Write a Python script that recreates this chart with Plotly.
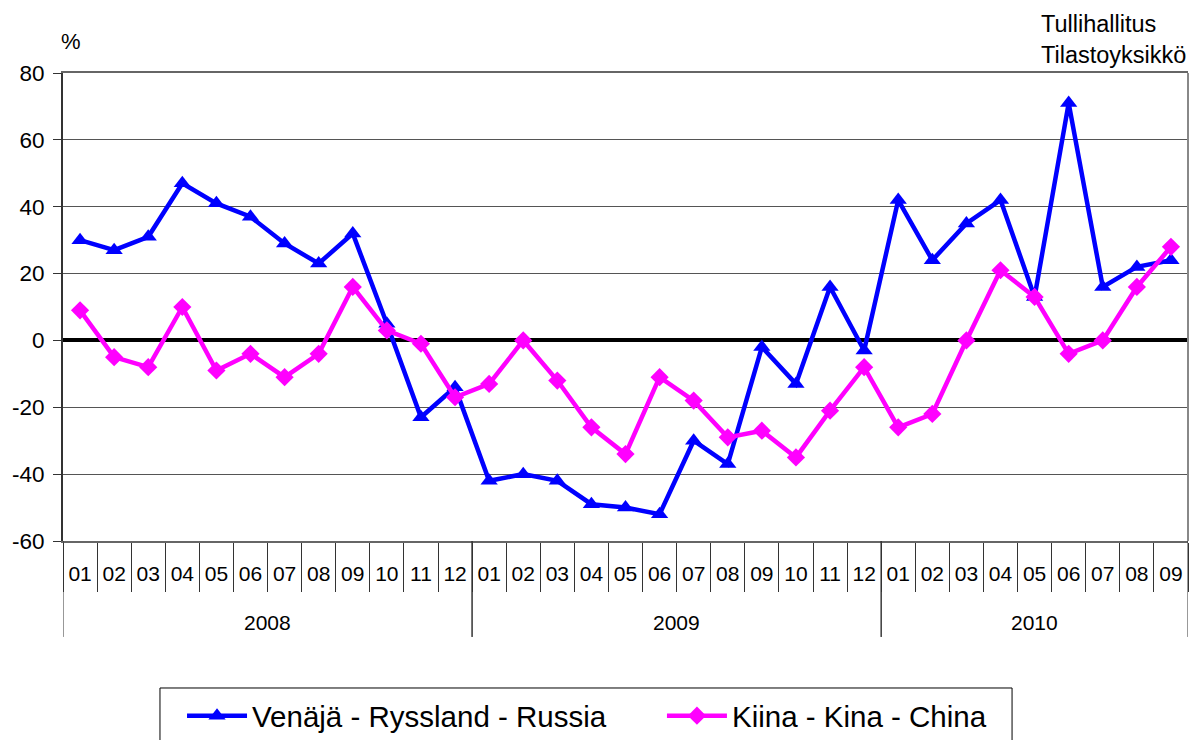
import plotly.graph_objects as go

years = ["2008"] * 12 + ["2009"] * 12 + ["2010"] * 9
months = [f"{m:02d}" for m in range(1, 13)] * 2 + [f"{m:02d}" for m in range(1, 10)]
periods = [f"{y}-{m}" for y, m in zip(years, months)]

russia = [30, 27, 31, 47, 41, 37, 29, 23, 32, 5, -23, -14,
          -42, -40, -42, -49, -50, -52, -30, -37, -2, -13, 16, -3,
          42, 24, 35, 42, 13, 71, 16, 22, 24]
china = [9, -5, -8, 10, -9, -4, -11, -4, 16, 3, -1, -17,
         -13, 0, -12, -26, -34, -11, -18, -29, -27, -35, -21, -8,
         -26, -22, 0, 21, 13, -4, 0, 16, 28]

y_ticks = list(range(-60, 81, 20))

FONT = "Liberation Sans, Arial, sans-serif"
AXIS_GREY = "#333333"

fig = go.Figure()
fig.add_trace(go.Scatter(
    x=periods, y=russia, name="Venäjä - Ryssland - Russia",
    mode="lines+markers", legend="legend",
    line=dict(color="#0000FF", width=4.5),
    marker=dict(symbol="triangle-up", size=15, color="#0000FF"),
))
fig.add_trace(go.Scatter(
    x=periods, y=china, name="Kiina - Kina - China",
    mode="lines+markers", legend="legend2",
    line=dict(color="#FF00FF", width=4.5),
    marker=dict(symbol="diamond", size=14, color="#FF00FF"),
))

# year groups: label in the middle of each group, divider lines at group edges
shapes = [dict(type="line", xref="paper", yref="paper", x0=1, x1=1, y0=0, y1=1,
               line=dict(color="#888888", width=2))]
annotations = []
year_order = list(dict.fromkeys(years))
start = 0
for yr in year_order:
    n = years.count(yr)
    first, last = start - 0.5, start + n - 0.5
    annotations.append(dict(text=yr, x=(first + last) / 2, xref="x", y=-0.175,
                            yref="paper", yanchor="middle", showarrow=False,
                            font=dict(size=21)))
    for edge in (first, last):
        shapes.append(dict(type="line", xref="x", yref="paper", x0=edge, x1=edge,
                           y0=0, y1=-0.205, line=dict(color=AXIS_GREY, width=1)))
    start += n

# frame shared by the two legend entries
shapes.append(dict(type="rect", xref="paper", yref="paper",
                   x0=0.0862, x1=0.8436, y0=-0.47, y1=-0.3141,
                   line=dict(color="black", width=1), fillcolor="rgba(0,0,0,0)"))

annotations += [
    dict(text="%", xref="paper", yref="paper", x=-0.004, y=1.0, yshift=17,
         xanchor="left", yanchor="bottom", showarrow=False, font=dict(size=22)),
    dict(text="Tullihallitus<br>Tilastoyksikkö", xref="paper", yref="paper",
         x=1.0, y=1.0, yshift=3, xanchor="right", yanchor="bottom", align="left",
         showarrow=False, font=dict(size=23.5)),
]

legend_style = dict(orientation="h", xanchor="left", y=-0.3184, yanchor="top",
                    borderwidth=0, bgcolor="rgba(0,0,0,0)",
                    font=dict(size=29.5), itemwidth=60)

fig.update_layout(
    width=1192, height=740,
    margin=dict(l=63, r=4, t=73, b=199, autoexpand=False),
    paper_bgcolor="white", plot_bgcolor="white",
    font=dict(family=FONT, size=21, color="black"),
    showlegend=True,
    legend=dict(x=0.1058, **legend_style),
    legend2=dict(x=0.5324, **legend_style),
    shapes=shapes,
    annotations=annotations,
)

fig.update_xaxes(
    type="category", automargin=False, tickangle=0,
    range=[-0.5, len(periods) - 0.5],
    tickvals=periods, ticktext=months,
    showline=True, linecolor="#666666", linewidth=2, mirror=True,
    ticks="outside", tickson="boundaries", ticklen=49, tickcolor=AXIS_GREY,
    showgrid=False, tickfont=dict(size=21), ticklabelstandoff=13,
)
fig.update_yaxes(
    range=[-60, 80], tickvals=y_ticks, ticktext=[str(v) for v in y_ticks],
    ticks="outside", ticklen=8, ticklabelstandoff=4,
    tickcolor=AXIS_GREY, showline=True, linecolor=AXIS_GREY, linewidth=2,
    showgrid=True, gridcolor="#555555", gridwidth=1,
    zeroline=True, zerolinecolor="black", zerolinewidth=3.5,
    tickfont=dict(size=22.5), automargin=False,
)

fig.write_html("out.html")
